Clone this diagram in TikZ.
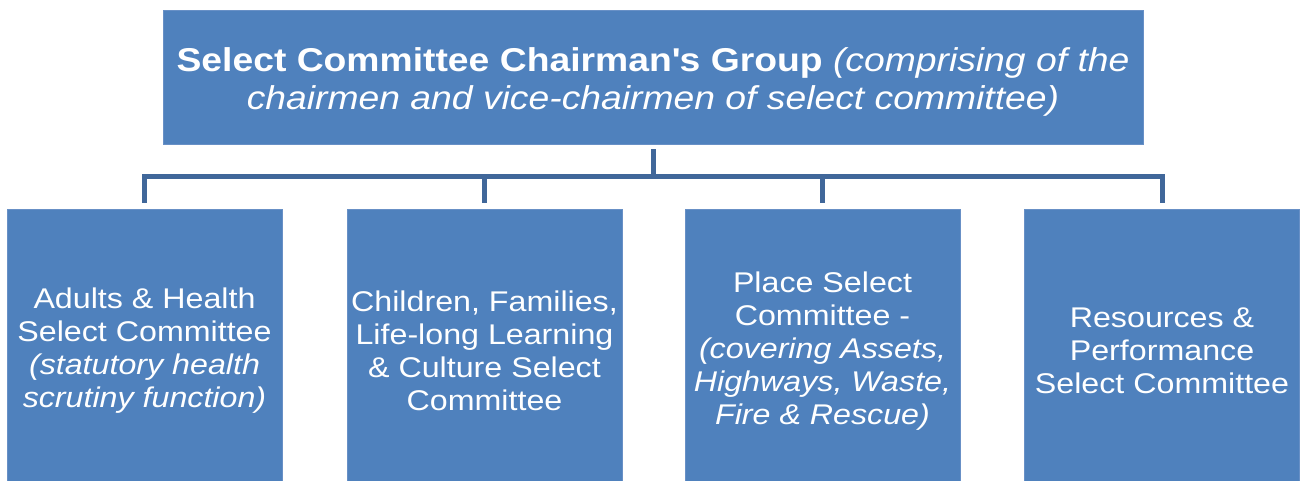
\documentclass[tikz,border=0pt]{standalone}
\usepackage{fontspec}
\setmainfont{Liberation Sans}[FakeStretch=1.13]
\definecolor{boxblue}{HTML}{4F81BD}
\definecolor{boxedge}{HTML}{6890C6}
\definecolor{linkblue}{HTML}{40679A}
\begin{document}
\begin{tikzpicture}[x=1pt,y=-1pt,
  unitbox/.style={rectangle, fill=boxblue, draw=boxedge, line width=0.8pt, inner sep=0pt},
  headbox/.style={unitbox, minimum width=980pt, minimum height=134pt},
  childbox/.style={unitbox, minimum width=275pt, minimum height=272pt},
  boxtext/.style={text=white, align=center, inner sep=0pt},
  childtext/.style={boxtext, font=\fontsize{28.5}{33}\selectfont},
  link/.style={draw=linkblue, line width=5pt}
]
\useasboundingbox (0,0) rectangle (1303,481);

% top group
\node[headbox] (top) at (653,77) {};
\node[boxtext, font=\fontsize{33}{38.5}\selectfont] (toptext) at (653,82)
  {\textbf{Select Committee Chairman\textquotesingle s Group} \textit{(comprising of the}\\
   \textit{chairmen and vice-chairmen of select committee)}};

% committees
\node[childbox] (c1) at (144.5,345) {};
\node[childbox] (c2) at (484.5,345) {};
\node[childbox] (c3) at (822.5,345) {};
\node[childbox] (c4) at (1162,345) {};

\node[childtext] (t1) at ([yshift=-6pt]c1.center) {Adults \& Health\\Select Committee\\\textit{(statutory health}\\\textit{scrutiny function)}};
\node[childtext] (t2) at ([yshift=-6pt]c2.center) {Children, Families,\\Life-long Learning\\\& Culture Select\\Committee};
\node[childtext] (t3) at ([yshift=-6pt]c3.center) {Place Select\\Committee -\\\textit{(covering Assets,}\\\textit{Highways, Waste,}\\\textit{Fire \& Rescue)}};
\node[childtext] (t4) at ([yshift=-6pt]c4.center) {Resources \&\\Performance\\Select Committee};

% connectors
\coordinate (bus) at (653,177);
\draw[link, shorten <=5pt] (top.south) -- (bus);
\draw[link, shorten <=6pt, shorten >=6pt] (c1.north) |- (bus) -| (c4.north);
\draw[link, shorten >=6pt] (bus -| c2.north) -- (c2.north);
\draw[link, shorten >=6pt] (bus -| c3.north) -- (c3.north);
\end{tikzpicture}
\end{document}
